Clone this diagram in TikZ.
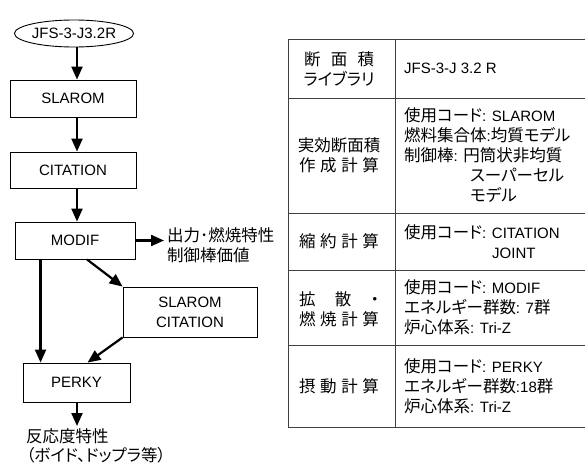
\documentclass[tikz,border=0pt]{standalone}
\usepackage{fontspec}
\setmainfont{Liberation Sans}
\newfontfamily\jp[RawFeature=+palt]{Noto Sans CJK JP}
\newcommand\J[1]{{\jp\fontsize{16.5}{20}\selectfont #1}}
\usetikzlibrary{arrows.meta,shapes.geometric,calc}
\begin{document}
\begin{tikzpicture}[x=1pt,y=-1pt,
  every node/.style={font=\fontsize{15}{20}\selectfont, inner sep=0pt},
  box/.style={draw, line width=0.9pt},
  arr/.style={line width=2.2pt, -{Triangle[length=13pt,width=11pt]}},
  tl/.style={line width=0.9pt, draw=black!75},
  jc/.style={font=\jp\fontsize{16.5}{20}\selectfont, align=center},
  tc/.style={anchor=west, align=left}]
\useasboundingbox (0,0) rectangle (585,466);
% flowchart
\node[box, ellipse, minimum width=118pt, minimum height=27pt] (lib) at (74,33.5) {JFS-3-J3.2R};
\node[box, minimum width=126pt, minimum height=37pt] (slarom) at (73,98.5) {SLAROM};
\node[box, minimum width=126pt, minimum height=36pt] (citation) at (73,170) {CITATION};
\node[box, minimum width=120pt, minimum height=37pt] (modif) at (75,240.5) {MODIF};
\node[box, minimum width=134pt, minimum height=50pt, align=center] (sc) at (190,312) {SLAROM\\CITATION};
\node[box, minimum width=107pt, minimum height=39pt] (perky) at (76.5,382.5) {PERKY};
\node[jc, anchor=west, align=left] (out) at (167,245) {出力･燃焼特性\\制御棒価値};
\node[jc, anchor=west, align=left, font=\jp\fontsize{16.5}{18.5}\selectfont] (react) at (26,446) {反応度特性\\（ボイド、ドップラ等）};
\coordinate (ax) at (77,0);
\coordinate (outend) at (164,240.5);
\coordinate (mdl) at ([xshift=26pt]modif.south west);
\coordinate (pend) at (77,426);
\draw[arr] (lib.south -| ax) -- (slarom.north -| ax);
\draw[arr] (slarom.south -| ax) -- (citation.north -| ax);
\draw[arr] (citation.south -| ax) -- (modif.north -| ax);
\draw[arr] (modif.east) -- (outend);
\draw[arr] ([xshift=12pt]modif.south) -- (sc.north west);
\draw[arr] (mdl) -- (mdl |- perky.north);
\draw[arr] (sc.south west) -- ([xshift=65pt]perky.north west);
\draw[arr] (perky.south -| ax) -- (pend);
% table
\foreach \yy in {39,98,213,270,345,427} \draw[tl] (288,\yy) -- (585,\yy);
\draw[tl] (288,39) -- (288,427);
\draw[tl] (395,39) -- (395,427);
% column 1
\node[jc] (h1) at (339,68.5) {\makebox[70pt][s]{断\hfill 面\hfill 積}\\ライブラリ};
\node[jc] (h2) at (339,155.5) {実効断面積\\\makebox[80pt][s]{作\hfill 成\hfill 計\hfill 算}};
\node[jc] (h3) at (339,241.5) {\makebox[80pt][s]{縮\hfill 約\hfill 計\hfill 算}};
\node[jc] (h4) at (339,309) {\makebox[80pt][s]{拡\hfill 散\hfill ・}\\\makebox[80pt][s]{燃\hfill 焼\hfill 計\hfill 算}};
\node[jc] (h5) at (339,386) {\makebox[80pt][s]{摂\hfill 動\hfill 計\hfill 算}};
% column 2
\node[tc] (c1) at (404,68.5) {JFS-3-J 3.2 R};
\node[tc] (c2) at (404,155.5) {\J{使用コード}: SLAROM\\\J{燃料集合体}:\J{均質モデル}\\\J{制御棒}: \J{円筒状非均質}\\\hspace*{66pt}\J{スーパーセル}\\\hspace*{66pt}\J{モデル}};
\node[tc] (c3) at (404,241.5) {\J{使用コード}: CITATION\\\hspace*{88pt}JOINT};
\node[tc] (c4) at (404,307.5) {\J{使用コード}: MODIF\\\J{エネルギー群数}: 7\J{群}\\\J{炉心体系}: Tri-Z};
\node[tc] (c5) at (404,386) {\J{使用コード}: PERKY\\\J{エネルギー群数}:18\J{群}\\\J{炉心体系}: Tri-Z};
\end{tikzpicture}
\end{document}
